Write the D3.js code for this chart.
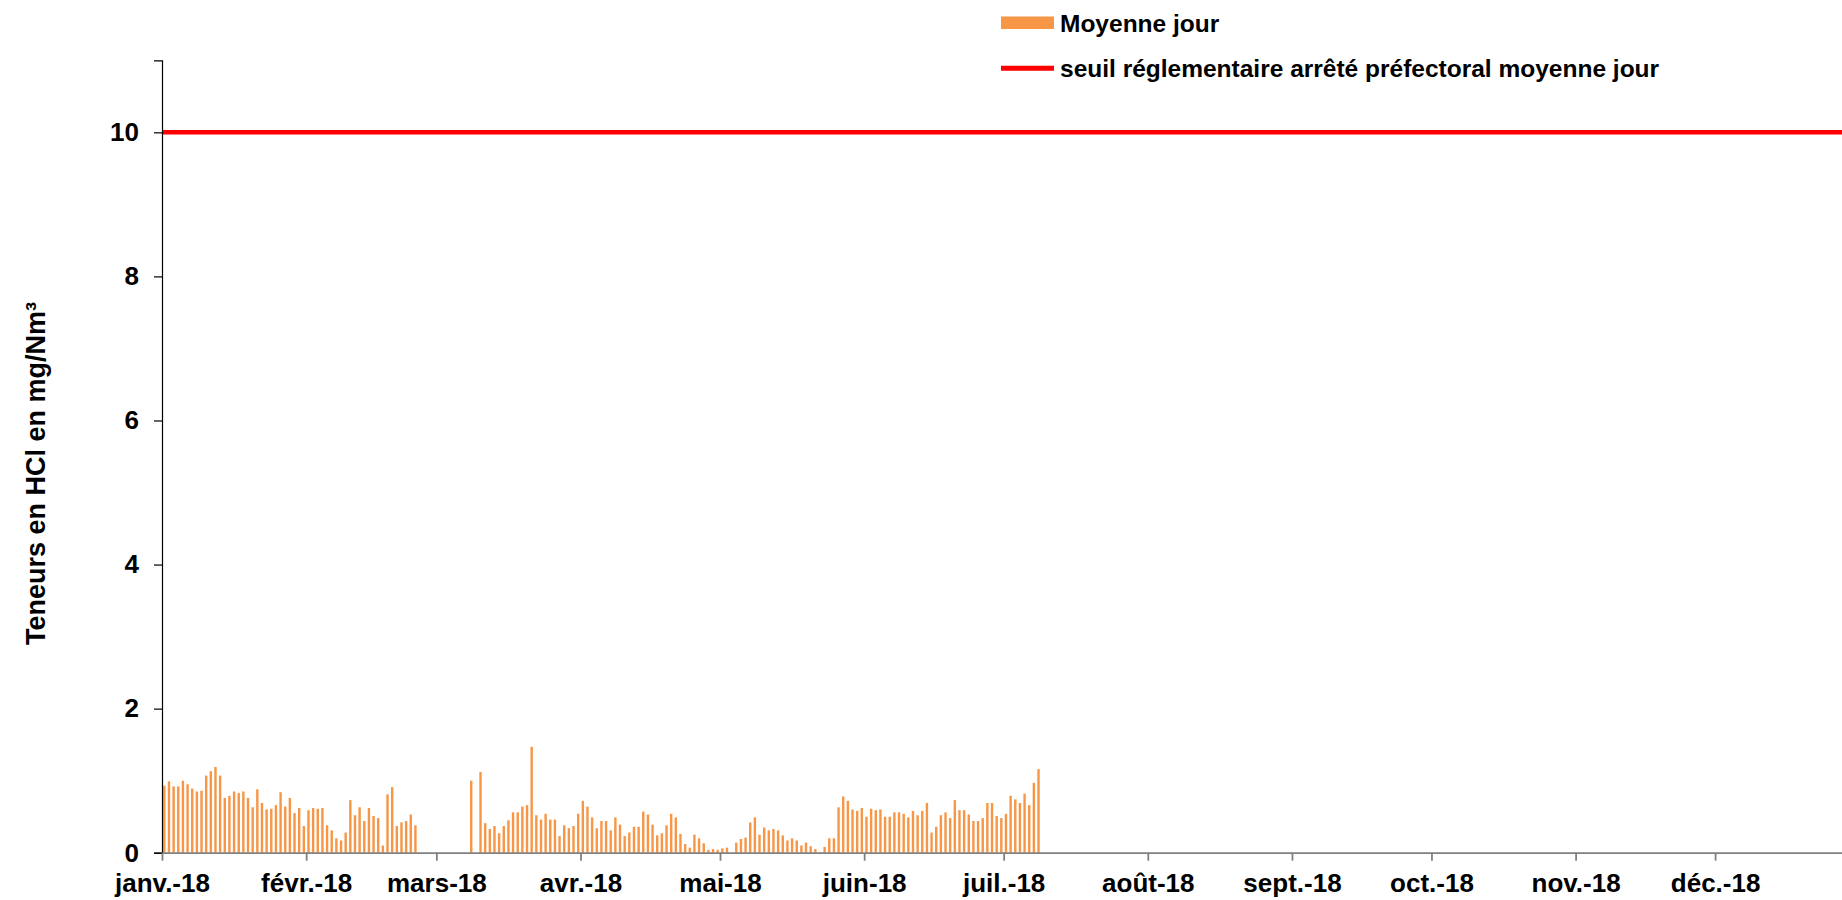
<!DOCTYPE html>
<html>
<head>
<meta charset="utf-8">
<script src="https://cdn.jsdelivr.net/npm/d3@7"></script>
<style>
  html, body { margin: 0; padding: 0; background: #fff; }
  svg { display: block; font-family: "Liberation Sans", Arial, sans-serif; }
</style>
</head>
<body>
<svg id="chart" width="1842" height="900"></svg>
<script>
// ---- Data (daily mean HCl, mg/Nm³), 2018; null = no measurement ----
const janv = [0.93,0.99,0.92,0.92,1.00,0.95,0.89,0.85,0.86,1.07,1.13,1.19,1.07,0.76,0.79,0.85,0.83,0.85,0.76,0.63,0.88,0.69,0.60,0.61,0.66,0.84,0.64,0.76,0.55,0.62,0.37];
const fevr = [0.59,0.62,0.61,0.62,0.38,0.31,0.20,0.17,0.28,0.73,0.52,0.63,0.44,0.62,0.51,0.48,0.10,0.81,0.91,0.37,0.42,0.44,0.53,0.38,null,null,null,null];
const mars = [null,null,null,null,null,null,null,1.00,null,1.12,0.41,0.33,0.37,0.27,0.37,0.45,0.56,0.56,0.64,0.66,1.47,0.52,0.46,0.54,0.46,0.46,0.23,0.38,0.34,0.37,0.54];
const avr  = [0.72,0.64,0.49,0.34,0.44,0.44,0.31,0.49,0.39,0.23,0.28,0.36,0.36,0.57,0.53,0.39,0.24,0.27,0.38,0.54,0.49,0.26,0.12,0.07,0.25,0.20,0.13,0.04,0.05,0.04];
const mai  = [0.06,0.07,null,0.14,0.19,0.21,0.42,0.49,0.25,0.35,0.31,0.33,0.31,0.24,0.17,0.20,0.17,0.10,0.14,0.09,0.05,0.01,0.08,0.20,0.20,0.63,0.78,0.72,0.60,0.58,0.62];
const juin = [0.50,0.61,0.59,0.60,0.50,0.50,0.56,0.56,0.54,0.49,0.58,0.52,0.58,0.69,0.28,0.36,0.52,0.56,0.48,0.73,0.59,0.59,0.53,0.44,0.44,0.48,0.69,0.69,0.51,0.48];
const juil = [0.54,0.79,0.74,0.69,0.82,0.66,0.97,1.16];

const seuil = 10;
const monthLabels = ["janv.-18","févr.-18","mars-18","avr.-18","mai-18","juin-18","juil.-18","août-18","sept.-18","oct.-18","nov.-18","déc.-18"];
const yTicks = [0, 2, 4, 6, 8, 10];
const seriesBarName = "Moyenne jour";
const seriesLineName = "seuil réglementaire arrêté préfectoral moyenne jour";
const yTitle = "Teneurs en HCl en mg/Nm³";

// ---- Build daily records ----
const months = [janv, fevr, mars, avr, mai, juin, juil];
const daily = [];
months.forEach((arr, m) => {
  arr.forEach((v, d) => {
    if (v !== null) daily.push({ date: new Date(Date.UTC(2018, m, d + 1)), value: v });
  });
});

// ---- Scales ----
const svg = d3.select("#chart");
const x0 = 162, dayW = 4.65;
const x = d3.scaleUtc()
  .domain([new Date(Date.UTC(2018, 0, 1)), new Date(Date.UTC(2019, 0, 1))])
  .range([x0, x0 + 365 * dayW]);
const y = d3.scaleLinear().domain([0, 11]).range([852.7, 60.3]);

const orange = "#F79646";
const barW = 2.4;
const font = "'Liberation Sans', Arial, sans-serif";

// ---- Bars ----
svg.append("g").selectAll("rect").data(daily).join("rect")
  .attr("x", d => x(d.date) + dayW / 2 - barW / 2)
  .attr("width", barW)
  .attr("y", d => y(d.value))
  .attr("height", d => y(0) - y(d.value))
  .attr("fill", orange);

// ---- Threshold line ----
svg.append("line")
  .attr("x1", x.range()[0]).attr("x2", x.range()[1])
  .attr("y1", y(seuil)).attr("y2", y(seuil))
  .attr("stroke", "#FF0000").attr("stroke-width", 4.5);

// ---- Y axis ----
const yAxis = d3.axisLeft(y).tickValues(yTicks).tickSize(8).tickPadding(15).tickFormat(d3.format("d"));
const gy = svg.append("g").attr("transform", `translate(${x0},0)`).call(yAxis);
gy.select(".domain").attr("stroke", "#000").attr("stroke-width", 1.2);
gy.selectAll(".tick line").attr("stroke", "#000").attr("stroke-width", 1.2);
gy.selectAll(".tick text")
  .attr("font-size", 26).attr("font-weight", "bold").attr("fill", "#000")
  .attr("font-family", font);

// ---- X axis ----
const monthTicks = d3.utcMonth.range(new Date(Date.UTC(2018, 0, 1)), new Date(Date.UTC(2019, 0, 1)));
const xAxis = d3.axisBottom(x).tickValues(monthTicks).tickSize(8).tickPadding(13)
  .tickFormat(d => monthLabels[d.getUTCMonth()]).tickSizeOuter(0);
const gx = svg.append("g").attr("transform", `translate(0,${y(0)})`).call(xAxis);
gx.select(".domain").attr("stroke", "#808080").attr("stroke-width", 1.8);
gx.selectAll(".tick line").attr("stroke", "#808080").attr("stroke-width", 1.8);
gx.selectAll(".tick text")
  .attr("font-size", 26).attr("font-weight", "bold").attr("fill", "#000")
  .attr("font-family", font);

// ---- Y title ----
svg.append("text")
  .attr("transform", "translate(45,473.5) rotate(-90)")
  .attr("text-anchor", "middle")
  .attr("font-size", 27).attr("font-weight", "bold")
  .text(yTitle);

// ---- Legend ----
const lg = svg.append("g");
lg.append("rect").attr("x", 1001).attr("y", 16.5).attr("width", 53).attr("height", 12.5).attr("fill", orange);
lg.append("text").attr("x", 1060).attr("y", 31.5).attr("font-size", 24.5).attr("font-weight", "bold").text(seriesBarName);
lg.append("line").attr("x1", 1001).attr("x2", 1054).attr("y1", 68.3).attr("y2", 68.3)
  .attr("stroke", "#FF0000").attr("stroke-width", 5);
lg.append("text").attr("x", 1060).attr("y", 76.5).attr("font-size", 24.5).attr("font-weight", "bold").text(seriesLineName);
</script>
</body>
</html>
